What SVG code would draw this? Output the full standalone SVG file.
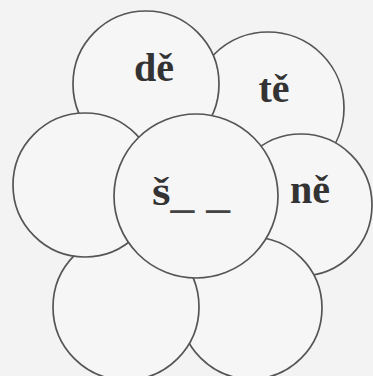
<svg xmlns="http://www.w3.org/2000/svg" width="373" height="376" viewBox="0 0 373 376">
  <style>
    .petal { fill: #f6f6f6; stroke: #555; stroke-width: 1.7; }
    .lbl { font-family: "Liberation Serif", "Times New Roman", serif; font-weight: bold; font-size: 40px; fill: #333; text-anchor: middle; }
    .blank { fill: #444; }
  </style>
  <rect width="373" height="376" fill="#f3f3f3"/>
  <g id="petal-te">
    <circle class="petal" cx="268" cy="108" r="76"/>
    <text class="lbl" x="274" y="102">tě</text>
  </g>
  <g id="petal-de">
    <circle class="petal" cx="146" cy="84" r="73"/>
    <text class="lbl" x="154" y="81">dě</text>
  </g>
  <g id="petal-ne">
    <circle class="petal" cx="301" cy="205" r="71"/>
    <text class="lbl" x="310" y="203">ně</text>
  </g>
  <g id="petal-bottom-right">
    <circle class="petal" cx="251" cy="308" r="71"/>
  </g>
  <g id="petal-bottom-left">
    <circle class="petal" cx="126" cy="307" r="73"/>
  </g>
  <g id="petal-left">
    <circle class="petal" cx="85" cy="185" r="72"/>
  </g>
  <g id="center">
    <circle class="petal" cx="196" cy="196" r="82"/>
    <text class="lbl" x="152" y="205" style="text-anchor:start" textLength="78" lengthAdjust="spacingAndGlyphs">š<tspan class="blank" dy="2">_ _</tspan></text>
  </g>
</svg>
